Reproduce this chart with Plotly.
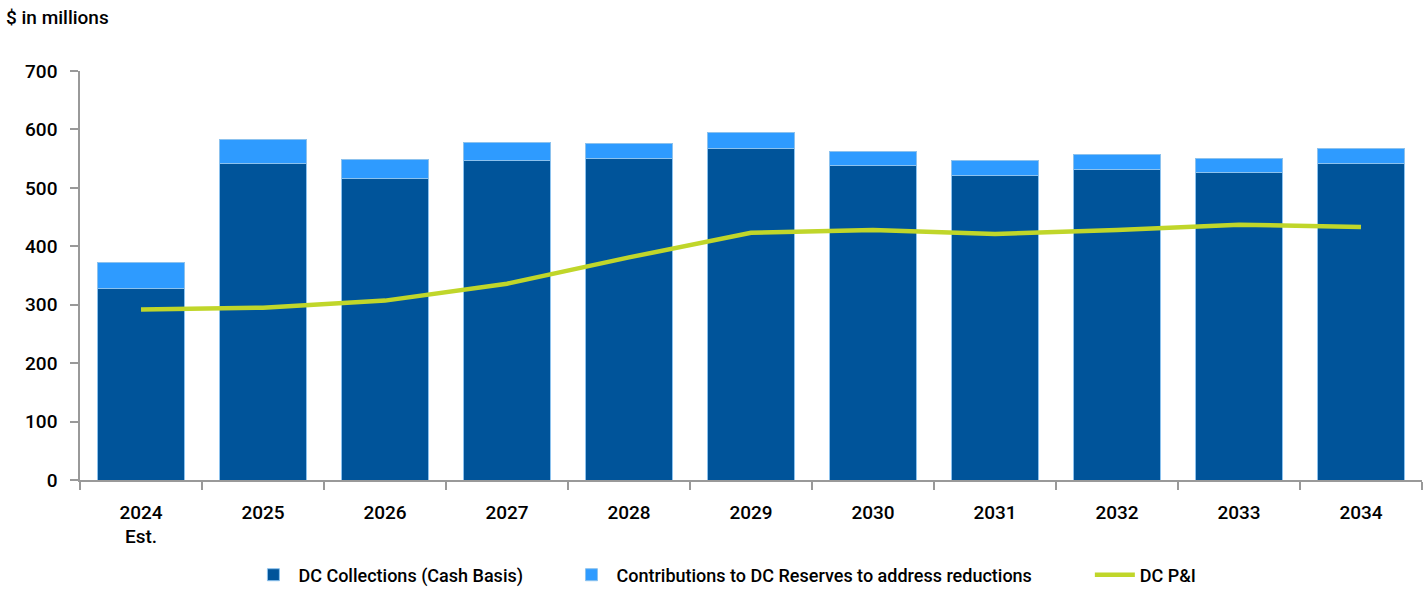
import plotly.graph_objects as go

years = ["2024<br>Est.", "2025", "2026", "2027", "2028", "2029", "2030",
         "2031", "2032", "2033", "2034"]
dc_collections = [328, 541, 516, 547, 551, 568, 539, 521, 531, 526, 541]
dc_reserves = [45, 41, 33, 30, 25, 26, 24, 25, 26, 25, 26]
dc_pi = [292, 295, 307, 336, 381, 423, 428, 421, 428, 437, 433]

FONT = "Roboto, Liberation Sans Narrow, sans-serif"
DARK = "#00549a"
LIGHT = "#2e9bff"
LIME = "#c0d62a"

fig = go.Figure()
fig.add_trace(go.Bar(x=years, y=dc_collections, name="DC Collections (Cash Basis)",
                     marker=dict(color=DARK, line=dict(color="#8cc2ee", width=1)),
                     legend="legend"))
fig.add_trace(go.Bar(x=years, y=dc_reserves,
                     name="Contributions to DC Reserves to address reductions",
                     marker=dict(color=LIGHT, line=dict(color="#8cc2ee", width=1)),
                     legend="legend2"))
fig.add_trace(go.Scatter(x=years, y=dc_pi, name="DC P&I", mode="lines",
                         line=dict(color=LIME, width=4.5), legend="legend3"))

# legends placed in container coords so they don't push the bottom margin
leg = dict(orientation="h", xanchor="left", yref="container", y=0.0254,
           yanchor="middle", font=dict(size=18), itemwidth=40,
           bgcolor="rgba(0,0,0,0)")

fig.update_layout(
    barmode="stack",
    bargap=0.29,
    width=1427, height=590,
    margin=dict(l=80, r=5, t=71, b=110),
    plot_bgcolor="white", paper_bgcolor="white",
    font=dict(family=FONT, size=19, color="#000000", weight=500),
    showlegend=True,
    legend=dict(leg, x=0.1255),
    legend2=dict(leg, x=0.3625),
    legend3=dict(leg, x=0.7525),
    annotations=[dict(text="$ in millions", xref="paper", yref="paper",
                      x=-0.057, y=1.13, xanchor="left", yanchor="middle",
                      showarrow=False, font=dict(size=19))],
)
fig.update_xaxes(showline=True, linecolor="#999999", linewidth=1.5,
                 ticks="outside", tickson="boundaries", ticklen=8,
                 tickcolor="#999999", tickwidth=1.5, showgrid=False,
                 ticklabelstandoff=14, automargin=False)
fig.update_yaxes(range=[0, 700], dtick=100, showline=True, linecolor="#999999",
                 linewidth=1.5, ticks="outside", ticklen=8, tickcolor="#999999",
                 tickwidth=1.5, showgrid=False, zeroline=False,
                 ticklabelstandoff=9, automargin=False)

fig.write_html("out.html", config={"displayModeBar": False},
               post_script="document.body.style.margin='0';")
